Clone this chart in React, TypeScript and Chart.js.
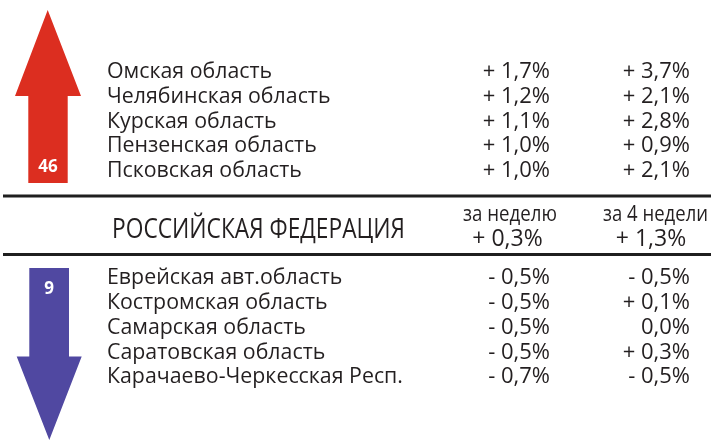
import React, { useEffect, useRef } from "react";
import { Chart, registerables } from "chart.js";

Chart.register(...registerables);

// ---- data ----
const risingRegions = [
  "Омская область",
  "Челябинская область",
  "Курская область",
  "Пензенская область",
  "Псковская область",
];
const risingWeek = [1.7, 1.2, 1.1, 1.0, 1.0];
const risingMonth = [3.7, 2.1, 2.8, 0.9, 2.1];

const fallingRegions = [
  "Еврейская авт.область",
  "Костромская область",
  "Самарская область",
  "Саратовская область",
  "Карачаево-Черкесская Респ.",
];
const fallingWeek = [-0.5, -0.5, -0.5, -0.5, -0.7];
const fallingMonth = [-0.5, 0.1, 0.0, 0.3, -0.5];

const risingCount = 46;
const fallingCount = 9;

const totalLabel = "РОССИЙСКАЯ ФЕДЕРАЦИЯ";
const periodLabels = ["за неделю", "за 4 недели"];
const totalValues = [0.3, 1.3];

// ---- formatting / styles ----
const fmt = (v: number) => {
  const sign = v > 0 ? "+ " : v < 0 ? "- " : "";
  return sign + Math.abs(v).toFixed(1).replace(".", ",") + "%";
};

const FONT = "'Open Sans', 'Noto Sans', sans-serif";
const TEXT = "#231f20";
const RED = "#dc2e20";
const BLUE = "#5048a1";
const RULE = "#1f1f1f";

const infographicPlugin = {
  id: "infographic",
  afterDraw(chart: any) {
    const ctx: CanvasRenderingContext2D = chart.ctx;
    const xs = chart.scales.x;
    const ys = chart.scales.y;
    const X = (v: number) => xs.getPixelForValue(v);
    const Y = (v: number) => ys.getPixelForValue(v);

    const poly = (pts: number[][], color: string) => {
      ctx.beginPath();
      pts.forEach(([px, py], i) => (i ? ctx.lineTo(X(px), Y(py)) : ctx.moveTo(X(px), Y(py))));
      ctx.closePath();
      ctx.fillStyle = color;
      ctx.fill();
    };

    const text = (
      s: string,
      x: number,
      y: number,
      size: number,
      align: CanvasTextAlign,
      opts: { weight?: string; color?: string; width?: number; sx?: number } = {}
    ) => {
      ctx.save();
      ctx.font = `${opts.weight || "normal"} ${size}px ${FONT}`;
      ctx.fillStyle = opts.color || TEXT;
      ctx.textBaseline = "alphabetic";
      ctx.textAlign = align;
      let sx = opts.sx || 1;
      if (opts.width) sx = opts.width / ctx.measureText(s).width;
      ctx.translate(X(x), Y(y));
      ctx.scale(sx, 1);
      ctx.fillText(s, 0, 0);
      ctx.restore();
    };

    ctx.save();
    // up arrow
    poly(
      [
        [47.7, 10],
        [81, 96],
        [67.7, 96],
        [67.7, 183],
        [28.3, 183],
        [28.3, 96],
        [15, 96],
      ],
      RED
    );
    // down arrow
    poly(
      [
        [29.3, 268],
        [69, 268],
        [69, 356.5],
        [81.7, 356.5],
        [49.3, 440],
        [16.7, 356.5],
        [29.3, 356.5],
      ],
      BLUE
    );
    text(String(risingCount), 48, 172, 17, "center", { weight: "bold", color: "#ffffff" });
    text(String(fallingCount), 49, 294, 17, "center", { weight: "bold", color: "#ffffff" });

    // rules
    ctx.fillStyle = RULE;
    ctx.fillRect(X(3), Y(194.5), X(711) - X(3), 3);
    ctx.fillRect(X(3), Y(253), X(711) - X(3), 3);

    // rising rows
    const topBase = 78.3;
    const topStep = 24.6;
    risingRegions.forEach((r, i) => {
      const y = topBase + i * topStep;
      text(r, 107, y, 22, "left", { sx: 0.97 });
      text(fmt(risingWeek[i]), 550, y, 22, "right");
      text(fmt(risingMonth[i]), 690, y, 22, "right");
    });

    // falling rows
    const botBase = 284.3;
    const botStep = 24.75;
    fallingRegions.forEach((r, i) => {
      const y = botBase + i * botStep;
      text(r, 107, y, 22, "left", { sx: 0.97 });
      text(fmt(fallingWeek[i]), 550, y, 22, "right");
      text(fmt(fallingMonth[i]), 690, y, 22, "right");
    });

    // total block
    text(totalLabel, 112, 238, 28, "left", { width: 293 });
    text(periodLabels[0], 510, 221, 21, "center", { width: 94 });
    text(periodLabels[1], 655.5, 221, 21, "center", { width: 105 });
    text(fmt(totalValues[0]), 507.5, 246, 23, "center");
    text(fmt(totalValues[1]), 651, 246, 23, "center");
    ctx.restore();
  },
};

export default function App() {
  const ref = useRef<HTMLCanvasElement | null>(null);
  useEffect(() => {
    if (!ref.current) return;
    const chart = new Chart(ref.current, {
      type: "scatter",
      data: { datasets: [] },
      options: {
        animation: false,
        responsive: false,
        layout: { padding: 0 },
        plugins: { legend: { display: false }, tooltip: { enabled: false } },
        scales: {
          x: { type: "linear", min: 0, max: 711, display: false },
          y: { type: "linear", min: 0, max: 440, reverse: true, display: false },
        },
      },
      plugins: [infographicPlugin],
    });
    return () => chart.destroy();
  }, []);
  return (
    <div style={{ position: "fixed", left: 0, top: 0, width: 711, height: 440, background: "#ffffff" }}>
      <canvas ref={ref} width={711} height={440} style={{ display: "block" }} />
    </div>
  );
}
